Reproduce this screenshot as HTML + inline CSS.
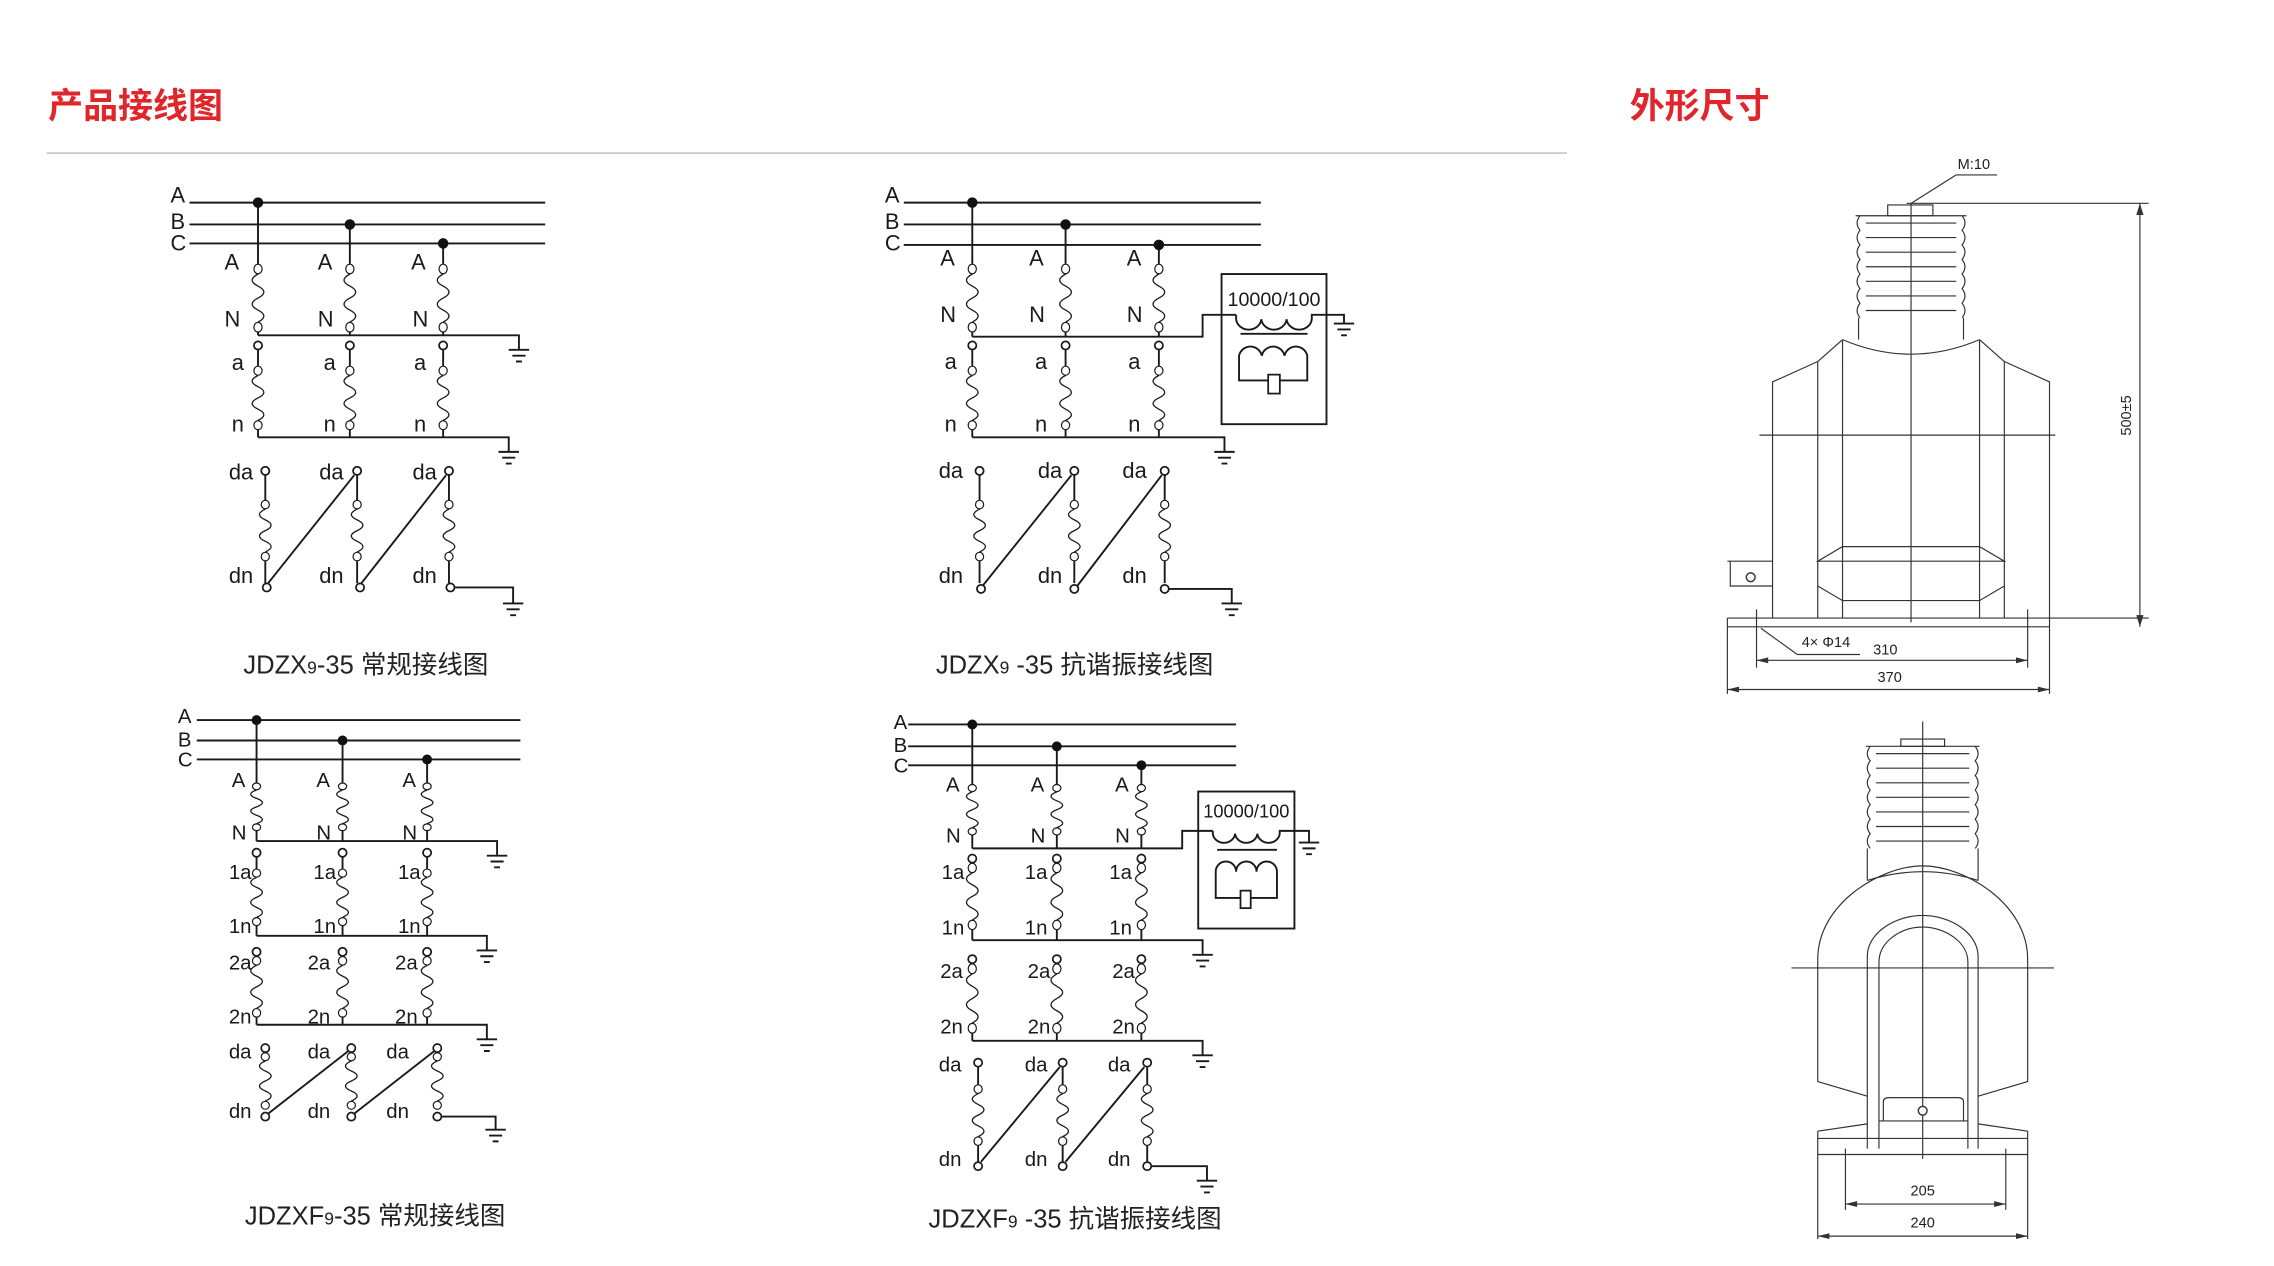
<!DOCTYPE html>
<html><head><meta charset="utf-8"><style>
html,body{margin:0;padding:0;background:#fff;}
svg{display:block;}
.w{stroke:#1a1a1a;stroke-width:1.3;fill:none;}
.d{stroke:#333;stroke-width:0.8;fill:none;}
.t{font-family:"Liberation Sans","Noto Sans CJK SC",sans-serif;fill:#1a1a1a;}
.cap{font-family:"Liberation Sans","Noto Sans CJK SC",sans-serif;fill:#222;font-size:17.5px;}
.ttl{font-family:"Liberation Sans","Noto Sans CJK SC",sans-serif;fill:#e0262a;font-size:24px;font-weight:bold;}
.dt{font-family:"Liberation Sans",sans-serif;fill:#222;font-size:10px;}
</style></head><body>
<svg width="2274" height="1266" viewBox="0 0 1560 868.5" preserveAspectRatio="none" xmlns="http://www.w3.org/2000/svg">
<defs>
<g id="coil"><circle cx="0" cy="3" r="2.8" fill="#fff" stroke="#1a1a1a" stroke-width="1.2" vector-effect="non-scaling-stroke"/><path d="M0,6 q-8,3.5 0,7 q8,3.5 0,7 q-8,3.5 0,7 q8,3.5 0,7 v0" fill="none" stroke="#1a1a1a" stroke-width="1.3" vector-effect="non-scaling-stroke"/><circle cx="0" cy="37" r="2.8" fill="#fff" stroke="#1a1a1a" stroke-width="1.2" vector-effect="non-scaling-stroke"/></g>
<g id="gnd"><path d="M-7,0 h14 M-4.5,4 h9 M-2,8 h4" stroke="#1a1a1a" stroke-width="1.3"/></g>
</defs>

<text class="ttl" x="33" y="81">产品接线图</text>
<line x1="32" y1="105" x2="1075" y2="105" stroke="#bbb" stroke-width="1"/>
<text class="ttl" x="1118" y="81">外形尺寸</text>

<!-- ===== Diagram 1 ===== -->
<g class="t" font-size="15">
<text x="117" y="139">A</text><text x="117" y="157">B</text><text x="117" y="172">C</text>
<text x="154" y="185">A</text><text x="218" y="185">A</text><text x="282" y="185">A</text>
<text x="154" y="224">N</text><text x="218" y="224">N</text><text x="283" y="224">N</text>
<text x="159" y="254">a</text><text x="222" y="254">a</text><text x="284" y="254">a</text>
<text x="159" y="296">n</text><text x="222" y="296">n</text><text x="284" y="296">n</text>
<text x="157" y="329">da</text><text x="219" y="329">da</text><text x="283" y="329">da</text>
<text x="157" y="400">dn</text><text x="219" y="400">dn</text><text x="283" y="400">dn</text>
</g>
<g class="w">
<path d="M130,139H374M130,154H374M130,167H374"/>
<path d="M177,139V181M240,154V181M304,167V181"/>
<path d="M177,228V230M240,228V230M304,228V230M177,230H356V240"/>
<path d="M177,240V251M240,240V251M304,240V251"/>
<path d="M177,295V300M240,295V300M304,295V300M177,300H349V310"/>
<path d="M182,326V343M245,326V343M308,326V343"/>
<path d="M182,385V400M245,385V400M308,385V400"/>
<path d="M184,400L243,326M248,400L306,326M312,403H352V414"/>
</g>
<g fill="#111"><circle cx="177" cy="139" r="3.6"/><circle cx="240" cy="154" r="3.6"/><circle cx="304" cy="167" r="3.6"/></g>
<use href="#coil" transform="translate(177,181) scale(1,1.175)"/><use href="#coil" transform="translate(240,181) scale(1,1.175)"/><use href="#coil" transform="translate(304,181) scale(1,1.175)"/>
<g fill="#fff" stroke="#1a1a1a" stroke-width="1.2"><circle cx="177" cy="237" r="2.8"/><circle cx="240" cy="237" r="2.8"/><circle cx="304" cy="237" r="2.8"/>
<circle cx="182" cy="323" r="2.8"/><circle cx="245" cy="323" r="2.8"/><circle cx="308" cy="323" r="2.8"/>
<circle cx="183" cy="403" r="2.8"/><circle cx="247" cy="403" r="2.8"/><circle cx="309" cy="403" r="2.8"/></g>
<use href="#coil" transform="translate(177,251) scale(1,1.1)"/><use href="#coil" transform="translate(240,251) scale(1,1.1)"/><use href="#coil" transform="translate(304,251) scale(1,1.1)"/>
<use href="#coil" transform="translate(182,343) scale(1,1.05)"/><use href="#coil" transform="translate(245,343) scale(1,1.05)"/><use href="#coil" transform="translate(308,343) scale(1,1.05)"/>
<use href="#gnd" transform="translate(356,240)"/><use href="#gnd" transform="translate(349,310)"/><use href="#gnd" transform="translate(352,414)"/>
<text class="cap" x="167" y="462">JDZX<tspan font-size="12">9</tspan>-35  常规接线图</text>

<!-- ===== Diagram 2 ===== -->
<g class="t" font-size="15">
<text x="607" y="139">A</text><text x="607" y="157">B</text><text x="607" y="172">C</text>
<text x="645" y="182">A</text><text x="706" y="182">A</text><text x="773" y="182">A</text>
<text x="645" y="221">N</text><text x="706" y="221">N</text><text x="773" y="221">N</text>
<text x="648" y="253">a</text><text x="710" y="253">a</text><text x="774" y="253">a</text>
<text x="648" y="296">n</text><text x="710" y="296">n</text><text x="774" y="296">n</text>
<text x="644" y="328">da</text><text x="712" y="328">da</text><text x="770" y="328">da</text>
<text x="644" y="400">dn</text><text x="712" y="400">dn</text><text x="770" y="400">dn</text>
</g>
<g class="w">
<path d="M620,139H865M620,154H865M620,168H865"/>
<path d="M667,139V181M731,154V181M795,168V181"/>
<path d="M667,228V231M731,228V231M795,228V231M667,231H825V216H848"/>
<path d="M667,240V251M731,240V251M795,240V251"/>
<path d="M667,295V300M731,295V300M795,295V300M667,300H840V310"/>
<path d="M672,326V343M737,326V343M799,326V343"/>
<path d="M672,385V400M737,385V400M799,385V400"/>
<path d="M674,402L735,326M739,402L797,326M802,404H845V414"/>
<rect x="838" y="188" width="72" height="103"/>
<path d="M848,216v3 a8.7,8 0 0 0 17.3,0 a8.7,8 0 0 0 17.3,0 a8.7,8 0 0 0 17.3,0 v-3 H922V222"/>
<path d="M851,229H897"/>
<path d="M850,261V244 a8,8 0 0 1 15.6,0 a8,8 0 0 1 15.6,0 a8,8 0 0 1 15.6,0 V261Z"/>
</g>
<rect x="870" y="257" width="8" height="13" fill="#fff" stroke="#1a1a1a" stroke-width="1.2"/>
<text class="t" x="874" y="210" font-size="13.5" text-anchor="middle">10000/100</text>
<g fill="#111"><circle cx="667" cy="139" r="3.6"/><circle cx="731" cy="154" r="3.6"/><circle cx="795" cy="168" r="3.6"/></g>
<use href="#coil" transform="translate(667,181) scale(1,1.175)"/><use href="#coil" transform="translate(731,181) scale(1,1.175)"/><use href="#coil" transform="translate(795,181) scale(1,1.175)"/>
<g fill="#fff" stroke="#1a1a1a" stroke-width="1.2"><circle cx="667" cy="237" r="2.8"/><circle cx="731" cy="237" r="2.8"/><circle cx="795" cy="237" r="2.8"/>
<circle cx="672" cy="323" r="2.8"/><circle cx="737" cy="323" r="2.8"/><circle cx="799" cy="323" r="2.8"/>
<circle cx="673" cy="404" r="2.8"/><circle cx="737" cy="404" r="2.8"/><circle cx="799" cy="404" r="2.8"/></g>
<use href="#coil" transform="translate(667,251) scale(1,1.1)"/><use href="#coil" transform="translate(731,251) scale(1,1.1)"/><use href="#coil" transform="translate(795,251) scale(1,1.1)"/>
<use href="#coil" transform="translate(672,343) scale(1,1.05)"/><use href="#coil" transform="translate(737,343) scale(1,1.05)"/><use href="#coil" transform="translate(799,343) scale(1,1.05)"/>
<use href="#gnd" transform="translate(922,222)"/><use href="#gnd" transform="translate(840,310)"/><use href="#gnd" transform="translate(845,414)"/>
<text class="cap" x="642" y="462">JDZX<tspan font-size="12">9</tspan> -35  抗谐振接线图</text>

<!-- ===== Diagram 3 ===== -->
<g class="t" font-size="14">
<text x="122" y="496">A</text><text x="122" y="512">B</text><text x="122" y="526">C</text>
<text x="159" y="540">A</text><text x="217" y="540">A</text><text x="276" y="540">A</text>
<text x="159" y="576">N</text><text x="217" y="576">N</text><text x="276" y="576">N</text>
<text x="157" y="603">1a</text><text x="215" y="603">1a</text><text x="273" y="603">1a</text>
<text x="157" y="640">1n</text><text x="215" y="640">1n</text><text x="273" y="640">1n</text>
<text x="157" y="665">2a</text><text x="211" y="665">2a</text><text x="271" y="665">2a</text>
<text x="157" y="702">2n</text><text x="211" y="702">2n</text><text x="271" y="702">2n</text>
<text x="157" y="726">da</text><text x="211" y="726">da</text><text x="265" y="726">da</text>
<text x="157" y="767">dn</text><text x="211" y="767">dn</text><text x="265" y="767">dn</text>
</g>
<g class="w">
<path d="M135,494H357M135,508H357M135,521H357"/>
<path d="M176,494V537M235,508V537M293,521V537"/>
<path d="M176,570V577M235,570V577M293,570V577M176,577H341V587"/>
<path d="M176,588V596M235,588V596M293,588V596"/>
<path d="M176,635V642M235,635V642M293,635V642M176,642H334V652"/>
<path d="M176,698V703M235,698V703M293,698V703M176,703H334V713"/>
<path d="M184,764L239,721M243,764L298,721M303,766H340V775"/>
</g>
<g fill="#111"><circle cx="176" cy="494" r="3.4"/><circle cx="235" cy="508" r="3.4"/><circle cx="293" cy="521" r="3.4"/></g>
<use href="#coil" transform="translate(176,537) scale(1,0.825)"/><use href="#coil" transform="translate(235,537) scale(1,0.825)"/><use href="#coil" transform="translate(293,537) scale(1,0.825)"/>
<g fill="#fff" stroke="#1a1a1a" stroke-width="1.2"><circle cx="176" cy="585" r="2.8"/><circle cx="235" cy="585" r="2.8"/><circle cx="293" cy="585" r="2.8"/>
<circle cx="176" cy="653" r="2.8"/><circle cx="235" cy="653" r="2.8"/><circle cx="293" cy="653" r="2.8"/>
<circle cx="182" cy="719" r="2.8"/><circle cx="241" cy="719" r="2.8"/><circle cx="300" cy="719" r="2.8"/>
<circle cx="182" cy="766" r="2.8"/><circle cx="241" cy="766" r="2.8"/><circle cx="300" cy="766" r="2.8"/></g>
<use href="#coil" transform="translate(176,596) scale(1,0.98)"/><use href="#coil" transform="translate(235,596) scale(1,0.98)"/><use href="#coil" transform="translate(293,596) scale(1,0.98)"/>
<use href="#coil" transform="translate(176,656) scale(1,1.05)"/><use href="#coil" transform="translate(235,656) scale(1,1.05)"/><use href="#coil" transform="translate(293,656) scale(1,1.05)"/>
<use href="#coil" transform="translate(182,722) scale(1,0.98)"/><use href="#coil" transform="translate(241,722) scale(1,0.98)"/><use href="#coil" transform="translate(300,722) scale(1,0.98)"/>
<use href="#gnd" transform="translate(341,587)"/><use href="#gnd" transform="translate(334,652)"/><use href="#gnd" transform="translate(334,713)"/><use href="#gnd" transform="translate(340,775)"/>
<text class="cap" x="168" y="840">JDZXF<tspan font-size="12">9</tspan>-35 常规接线图</text>

<!-- ===== Diagram 4 ===== -->
<g class="t" font-size="14">
<text x="613" y="500">A</text><text x="613" y="516">B</text><text x="613" y="530">C</text>
<text x="649" y="543">A</text><text x="707" y="543">A</text><text x="765" y="543">A</text>
<text x="649" y="578">N</text><text x="707" y="578">N</text><text x="765" y="578">N</text>
<text x="646" y="603">1a</text><text x="703" y="603">1a</text><text x="761" y="603">1a</text>
<text x="646" y="641">1n</text><text x="703" y="641">1n</text><text x="761" y="641">1n</text>
<text x="645" y="671">2a</text><text x="705" y="671">2a</text><text x="763" y="671">2a</text>
<text x="645" y="709">2n</text><text x="705" y="709">2n</text><text x="763" y="709">2n</text>
<text x="644" y="735">da</text><text x="703" y="735">da</text><text x="760" y="735">da</text>
<text x="644" y="800">dn</text><text x="703" y="800">dn</text><text x="760" y="800">dn</text>
</g>
<g class="w">
<path d="M623,497H848M623,512H848M623,525H848"/>
<path d="M667,497V538M725,512V538M783,525V538"/>
<path d="M667,573V582M725,573V582M783,573V582M667,582H811V570H832"/>
<path d="M667,645V638M725,645V638M783,645V638M667,645H825V655"/>
<path d="M667,709V714M725,709V714M783,709V714M667,714H825V724"/>
<path d="M671,732V744M729,732V744M787,732V744"/>
<path d="M671,786V797M729,786V797M787,786V797"/>
<path d="M673,797L727,732M731,797L785,732M790,800H828V810"/>
<rect x="822" y="543" width="66" height="94"/>
<path d="M832,570v2 a7.7,7 0 0 0 15.3,0 a7.7,7 0 0 0 15.3,0 a7.7,7 0 0 0 15.3,0 v-2 H898V578"/>
<path d="M835,583H876"/>
<path d="M834,616V598 a7,7 0 0 1 14,0 a7,7 0 0 1 14,0 a7,7 0 0 1 14,0 V616Z"/>
</g>
<rect x="851" y="611" width="7" height="12" fill="#fff" stroke="#1a1a1a" stroke-width="1.2"/>
<text class="t" x="855" y="561" font-size="12.5" text-anchor="middle">10000/100</text>
<g fill="#111"><circle cx="667" cy="497" r="3.4"/><circle cx="725" cy="512" r="3.4"/><circle cx="783" cy="525" r="3.4"/></g>
<use href="#coil" transform="translate(667,538) scale(1,0.875)"/><use href="#coil" transform="translate(725,538) scale(1,0.875)"/><use href="#coil" transform="translate(783,538) scale(1,0.875)"/>
<g fill="#fff" stroke="#1a1a1a" stroke-width="1.2"><circle cx="667" cy="589" r="2.8"/><circle cx="725" cy="589" r="2.8"/><circle cx="783" cy="589" r="2.8"/>
<circle cx="667" cy="658" r="2.8"/><circle cx="725" cy="658" r="2.8"/><circle cx="783" cy="658" r="2.8"/>
<circle cx="671" cy="729" r="2.8"/><circle cx="729" cy="729" r="2.8"/><circle cx="787" cy="729" r="2.8"/>
<circle cx="671" cy="800" r="2.8"/><circle cx="729" cy="800" r="2.8"/><circle cx="787" cy="800" r="2.8"/></g>
<use href="#coil" transform="translate(667,592) scale(1,1.15)"/><use href="#coil" transform="translate(725,592) scale(1,1.15)"/><use href="#coil" transform="translate(783,592) scale(1,1.15)"/>
<use href="#coil" transform="translate(667,661) scale(1,1.2)"/><use href="#coil" transform="translate(725,661) scale(1,1.2)"/><use href="#coil" transform="translate(783,661) scale(1,1.2)"/>
<use href="#coil" transform="translate(671,744) scale(1,1.05)"/><use href="#coil" transform="translate(729,744) scale(1,1.05)"/><use href="#coil" transform="translate(787,744) scale(1,1.05)"/>
<use href="#gnd" transform="translate(898,578)"/><use href="#gnd" transform="translate(825,655)"/><use href="#gnd" transform="translate(825,724)"/><use href="#gnd" transform="translate(828,810)"/>
<text class="cap" x="637" y="842">JDZXF<tspan font-size="12">9</tspan> -35  抗谐振接线图</text>

<!-- ===== Outline drawing top ===== -->
<g class="d">
<path d="M1342,120H1370M1342,120L1311,139.5"/>
<path d="M1308,139.5H1474"/>
<rect x="1295" y="140.6" width="31" height="7.4"/>
<path d="M1273,148 h76 M1276,148 q-4,5 0,10 q-4,5 0,10 q-4,5 0,10 q-4,5 0,10 q-4,5 0,10 q-4,5 0,10 q-4,5 0,10 M1346,148 q4,5 0,10 q4,5 0,10 q4,5 0,10 q4,5 0,10 q4,5 0,10 q4,5 0,10 q4,5 0,10"/>
<path d="M1280,153H1342M1280,163H1342M1280,173H1342M1280,183H1342M1280,193H1342M1280,203H1342M1280,213H1342"/>
<path d="M1275,218V233M1347,218V233"/>
<path d="M1264,233 Q1311,253 1358,233"/>
<path d="M1264,233V424M1358,233V424M1247,248V424M1375,248V424M1264,233L1247,248M1358,233L1375,248"/>
<path d="M1247,248L1216,262V424M1375,248L1406,262V424"/>
<path d="M1264,375H1358L1375,385H1247Z M1247,402L1264,412H1358L1375,402"/>
<path d="M1185,424H1474M1185,430H1406M1185,424V476M1406,424V476"/>
<path d="M1185,385H1216M1187,385V402H1216"/>
<path d="M1311,139V427"/>
<path d="M1207,298.5H1410"/>
<path d="M1468,139.5V430"/>
<path d="M1205,418V458M1391,418V458M1205,453H1391M1185,473H1406"/>
<path d="M1233,449H1276M1233,449L1208,431"/>
</g>
<circle cx="1201" cy="396" r="3" fill="#fff" stroke="#333" stroke-width="1"/>
<g fill="#333">
<path d="M1468,139.5l-2.5,8h5z M1468,430l-2.5,-8h5z"/>
<path d="M1205,453l8,-2v4z M1391,453l-8,-2v4z M1185,473l8,-2v4z M1406,473l-8,-2v4z"/>
</g>
<text class="dt" x="1343" y="116">M:10</text>
<text class="dt" x="1462" y="285" transform="rotate(-90 1462 285)" text-anchor="middle">500±5</text>
<text class="dt" x="1236" y="444">4× Φ14</text>
<text class="dt" x="1285" y="449">310</text>
<text class="dt" x="1288" y="468">370</text>

<!-- ===== Outline drawing bottom ===== -->
<g class="d">
<path d="M1319,495V795"/>
<rect x="1304" y="507" width="30" height="5"/>
<path d="M1280,512h78 M1283,512 q-4,5 0,10 q-4,5 0,10 q-4,5 0,10 q-4,5 0,10 q-4,5 0,10 q-4,5 0,10 q-4,5 0,10 M1355,512 q4,5 0,10 q4,5 0,10 q4,5 0,10 q4,5 0,10 q4,5 0,10 q4,5 0,10 q4,5 0,10"/>
<path d="M1287,517H1351M1287,527H1351M1287,537H1351M1287,547H1351M1287,557H1351M1287,567H1351M1287,577H1351"/>
<path d="M1281,582V604M1357,582V604M1281,604Q1319,592 1357,604"/>
<path d="M1247,658 C1247,620 1290,594 1319,594 C1348,594 1391,620 1391,658 V742 L1357,752 M1247,658V742L1281,752"/>
<path d="M1281,788V656 C1281,640 1300,628 1319,628 C1338,628 1357,640 1357,656 V788"/>
<path d="M1289,788V660 C1289,646 1304,636 1319,636 C1334,636 1350,646 1350,660 V788"/>
<path d="M1289,769H1350M1292,769V756Q1292,753 1296,753H1343Q1347,753 1347,756V769"/>
<path d="M1247,776L1281,771M1391,776L1357,771M1247,776V850M1391,776V850M1247,781H1391M1247,792H1391"/>
<path d="M1229,664H1409"/>
<path d="M1266,788V830M1376,788V830M1266,826H1376M1247,848H1391"/>
</g>
<circle cx="1319" cy="762" r="3" fill="#fff" stroke="#333" stroke-width="1"/>
<g fill="#333">
<path d="M1266,826l8,-2v4z M1376,826l-8,-2v4z M1247,848l8,-2v4z M1391,848l-8,-2v4z"/>
</g>
<text class="dt" x="1319" y="820" text-anchor="middle">205</text>
<text class="dt" x="1319" y="842" text-anchor="middle">240</text>
</svg>
</body></html>
